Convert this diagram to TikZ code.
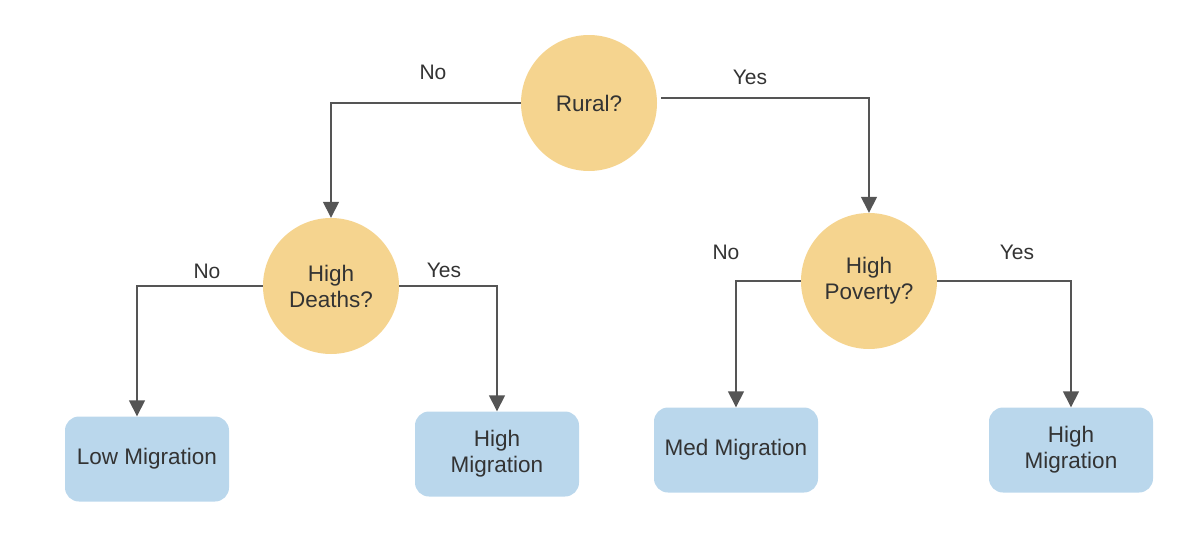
\documentclass[tikz,border=0pt]{standalone}
\usepackage{fontspec}
\setmainfont{Liberation Sans}
\usetikzlibrary{arrows.meta}
\usepackage{xcolor}
\definecolor{SoftYellow}{HTML}{F5D48F}
\definecolor{SoftBlue}{HTML}{BAD7EC}
\definecolor{LineGray}{HTML}{555555}
\definecolor{TextGray}{HTML}{333333}
\tikzset{
  question/.style={circle, fill=SoftYellow, minimum size=136pt, inner sep=0pt,
    align=center, text=TextGray, font=\fontsize{22.5}{26}\selectfont},
  outcome/.style={rounded corners=14pt, fill=SoftBlue, minimum width=164pt,
    minimum height=85pt, align=center, text=TextGray,
    font=\fontsize{22.5}{26}\selectfont},
  answer/.style={text=TextGray, font=\fontsize{21}{25}\selectfont},
  arrow/.style={-{Triangle[width=16pt,length=16pt]}, line width=1.5pt, LineGray}
}

\begin{document}
\begin{tikzpicture}[x=1pt,y=-1pt]
      \useasboundingbox (0,0) rectangle (1200,544);
      % questions
      \node[question] (rural) at (589,103) {Rural?};
      \node[question] (deaths) at (331,286) {High\\Deaths?};
      \node[question] (poverty) at (869,281) {High\\Poverty?};
      % outcomes
      \node[outcome] (low) at (147,459) {Low Migration};
      \node[outcome] (highA) at (497,454) {High\\Migration};
      \node[outcome] (med) at (736,450) {Med Migration};
      \node[outcome] (highB) at (1071,450) {High\\Migration};
      % branch labels
      \node[answer] (ruralNo) at (433,72) {No};
      \node[answer] (ruralYes) at (750,77) {Yes};
      \node[answer] (deathsNo) at (207,271) {No};
      \node[answer] (deathsYes) at (444,270) {Yes};
      \node[answer] (povertyNo) at (726,252) {No};
      \node[answer] (povertyYes) at (1017,252) {Yes};
      % connectors
      \draw[arrow] (rural.west) -| (deaths.north);
      \draw[arrow] ([xshift=4pt,yshift=5pt]rural.east) -| (poverty.north);
      \draw[arrow] (deaths.west) -| ([xshift=-10pt]low.north);
      \draw[arrow] (deaths.east) -| (highA.north);
      \draw[arrow] (poverty.west) -| (med.north);
      \draw[arrow] (poverty.east) -| (highB.north);
    \end{tikzpicture}
\end{document}
